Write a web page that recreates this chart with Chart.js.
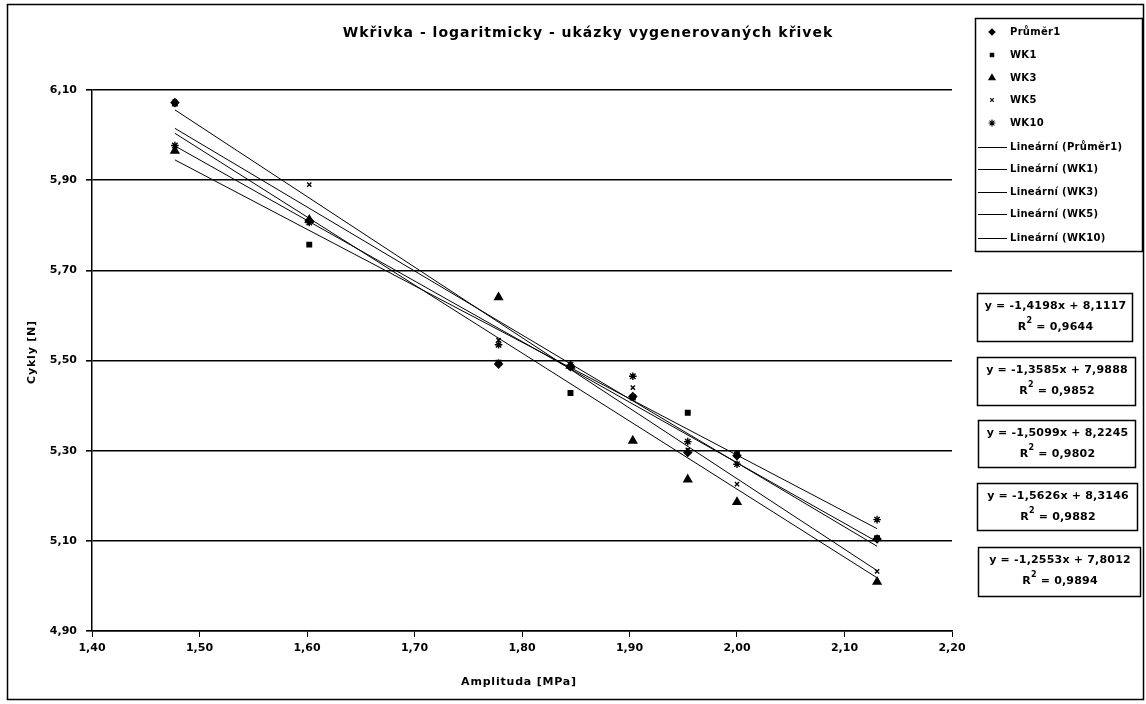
<!DOCTYPE html>
<html><head><meta charset="utf-8">
<script src="https://cdn.jsdelivr.net/npm/chart.js@4/dist/chart.umd.min.js"></script>
<style>html,body{margin:0;padding:0;background:#fff}canvas{display:block}</style>
</head><body><canvas id="c" width="1146" height="704"></canvas>
<script>
// ---- data (log10 values) ----
const amplitudes = [1.4771, 1.6021, 1.7782, 1.8451, 1.9031, 1.9542, 2.0000, 2.1303];
const prumer1 = [6.072, 5.810, 5.492, 5.486, 5.420, 5.296, 5.289, 5.104];
const wk1     = [6.070, 5.757, 5.495, 5.428, 5.418, 5.384, 5.292, 5.106];
const wk3     = [5.965, 5.812, 5.640, 5.488, 5.322, 5.236, 5.186, 5.009];
const wk5     = [6.075, 5.890, 5.545, 5.484, 5.440, 5.302, 5.226, 5.032];
const wk10    = [5.977, 5.806, 5.535, 5.490, 5.465, 5.320, 5.270, 5.147];
// trendline ends, at the first and last amplitude
const trendStart = [6.015, 5.976, 6.004, 6.056, 5.945];
const trendEnd   = [5.088, 5.098, 5.018, 5.034, 5.127];
const seriesNames = ['Průměr1', 'WK1', 'WK3', 'WK5', 'WK10'];
const r2Values   = ['0,9644', '0,9852', '0,9802', '0,9882', '0,9894'];
const eqLabels   = ['y = -1,4198x + 8,1117', 'y = -1,3585x + 7,9888', 'y = -1,5099x + 8,2245', 'y = -1,5626x + 8,3146', 'y = -1,2553x + 7,8012'];
const xTicks = [1.40, 1.50, 1.60, 1.70, 1.80, 1.90, 2.00, 2.10, 2.20];
const yTicks = [4.90, 5.10, 5.30, 5.50, 5.70, 5.90, 6.10];
const titleText = 'Wkřivka - logaritmicky - ukázky vygenerovaných křivek';
const xTitle = 'Amplituda [MPa]';
const yTitle = 'Cykly [N]';

const seriesValues = [prumer1, wk1, wk3, wk5, wk10];
const pointStyles = ['rectRot', 'rect', 'triangle', 'crossRot', 'star'];
const pointRadii = [3.8, 3.2, 4.5, 3, 3.8];
const legendRadii = [3, 2.4, 3.6, 2.5, 3.4];
const FONT = 'DejaVu Sans';

const datasets = [];
seriesValues.forEach((vals, i) => {
  datasets.push({
    type: 'scatter', label: seriesNames[i],
    data: amplitudes.map((x, k) => ({x, y: vals[k]})),
    pointStyle: pointStyles[i], pointRadius: pointRadii[i],
    backgroundColor: '#000', borderColor: '#000', borderWidth: 1.4,
    order: 1
  });
});
const xa = amplitudes[0], xb = amplitudes[amplitudes.length - 1];
seriesNames.forEach((n, i) => {
  datasets.push({
    type: 'line', label: 'Lineární (' + n + ')',
    data: [{x: xa, y: trendStart[i]}, {x: xb, y: trendEnd[i]}],
    borderColor: '#000', borderWidth: 1, pointRadius: 0, fill: false, tension: 0,
    order: 2
  });
});

const fmt = v => Number(v).toFixed(2).replace('.', ',');

const decor = {
  id: 'decor',
  beforeDraw(chart) {
    const ctx = chart.ctx;
    ctx.save();
    ctx.fillStyle = '#fff';
    ctx.fillRect(0, 0, chart.width, chart.height);
    ctx.restore();
  },
  afterDraw(chart) {
    const ctx = chart.ctx;
    ctx.save();
    ctx.strokeStyle = '#000'; ctx.fillStyle = '#000';
    // outer frame
    ctx.lineWidth = 1.5;
    ctx.strokeRect(7.5, 4.5, 1136, 695);
    // title
    ctx.font = 'bold 14px ' + FONT;
    ctx.letterSpacing = '1px';
    ctx.textAlign = 'center'; ctx.textBaseline = 'middle';
    ctx.fillText(titleText, 588, 33);
    // axis titles
    ctx.font = 'bold 11px ' + FONT;
    ctx.letterSpacing = '0.8px';
    ctx.fillText(xTitle, 519, 682);
    ctx.save();
    ctx.translate(32, 352); ctx.rotate(-Math.PI / 2);
    ctx.fillText(yTitle, 0, 0);
    ctx.restore();
    // legend box
    ctx.letterSpacing = '0.3px';
    ctx.lineWidth = 1.5;
    ctx.strokeRect(975.5, 18.5, 167, 233);
    ctx.textAlign = 'left';
    ctx.font = 'bold 10px ' + FONT;
    const rowsM = [32, 55, 78, 100, 123];
    seriesNames.forEach((n, i) => {
      ctx.fillStyle = '#000'; ctx.strokeStyle = '#000'; ctx.lineWidth = 1.1;
      Chart.helpers.drawPoint(ctx, {pointStyle: pointStyles[i], radius: legendRadii[i], borderWidth: 1.1}, 992, rowsM[i]);
      ctx.fillStyle = '#000';
      ctx.fillText(n, 1010, rowsM[i]);
    });
    const rowsL = [147, 169, 192, 214, 238];
    seriesNames.forEach((n, i) => {
      ctx.lineWidth = 1;
      ctx.beginPath(); ctx.moveTo(978, rowsL[i] + 0.5); ctx.lineTo(1007, rowsL[i] + 0.5); ctx.stroke();
      ctx.fillText('Lineární (' + n + ')', 1010, rowsL[i]);
    });
    // equation boxes
    const boxes = [[977, 293, 155, 48], [977, 357, 158, 48], [978, 420, 157, 47], [977, 483, 160, 47], [978, 547, 162, 49]];
    boxes.forEach((b, i) => {
      ctx.lineWidth = 1.5;
      ctx.strokeRect(b[0] + 0.5, b[1] + 0.5, b[2], b[3]);
      ctx.textAlign = 'center';
      ctx.font = 'bold 11px ' + FONT;
      ctx.letterSpacing = '0.2px';
      const cx = b[0] + b[2] / 2 + 1;
      ctx.fillText(eqLabels[i], cx, b[1] + 13);
      const rest = ' = ' + r2Values[i];
      const wR = ctx.measureText('R').width;
      ctx.font = 'bold 8px ' + FONT;
      const w2 = ctx.measureText('2').width;
      ctx.font = 'bold 11px ' + FONT;
      const wRest = ctx.measureText(rest).width;
      const sx = cx - (wR + w2 + wRest) / 2;
      ctx.textAlign = 'left';
      ctx.fillText('R', sx, b[1] + 34);
      ctx.font = 'bold 8px ' + FONT;
      ctx.fillText('2', sx + wR, b[1] + 28);
      ctx.font = 'bold 11px ' + FONT;
      ctx.fillText(rest, sx + wR + w2, b[1] + 34);
    });
    ctx.restore();
  }
};

new Chart(document.getElementById('c'), {
  data: {datasets},
  options: {
    responsive: false, animation: false, devicePixelRatio: 1,
    layout: {padding: {top: 90, right: 194, left: 0, bottom: 0}},
    plugins: {legend: {display: false}, title: {display: false}, tooltip: {enabled: false}},
    scales: {
      x: {
        type: 'linear', min: 1.4, max: 2.2,
        afterBuildTicks: s => { s.ticks = xTicks.map(v => ({value: v})); },
        afterFit: s => { s.height = 73; },
        ticks: {callback: fmt, color: '#000', font: {family: FONT, size: 11, weight: 'bold'}, padding: 5, maxRotation: 0, autoSkip: false},
        grid: {drawOnChartArea: false, drawTicks: true, tickLength: 6, color: '#000', lineWidth: 1},
        border: {display: true, color: '#000', width: 1.5}
      },
      y: {
        type: 'linear', min: 4.9, max: 6.1,
        afterBuildTicks: s => { s.ticks = yTicks.map(v => ({value: v})); },
        afterFit: s => { s.width = 92; },
        ticks: {callback: fmt, color: '#000', font: {family: FONT, size: 11, weight: 'bold'}, padding: 9, autoSkip: false},
        grid: {drawOnChartArea: true, drawTicks: true, tickLength: 6, color: '#000', lineWidth: 1.6},
        border: {display: true, color: '#000', width: 1.5}
      }
    }
  },
  plugins: [decor]
});
</script>
</body></html>
